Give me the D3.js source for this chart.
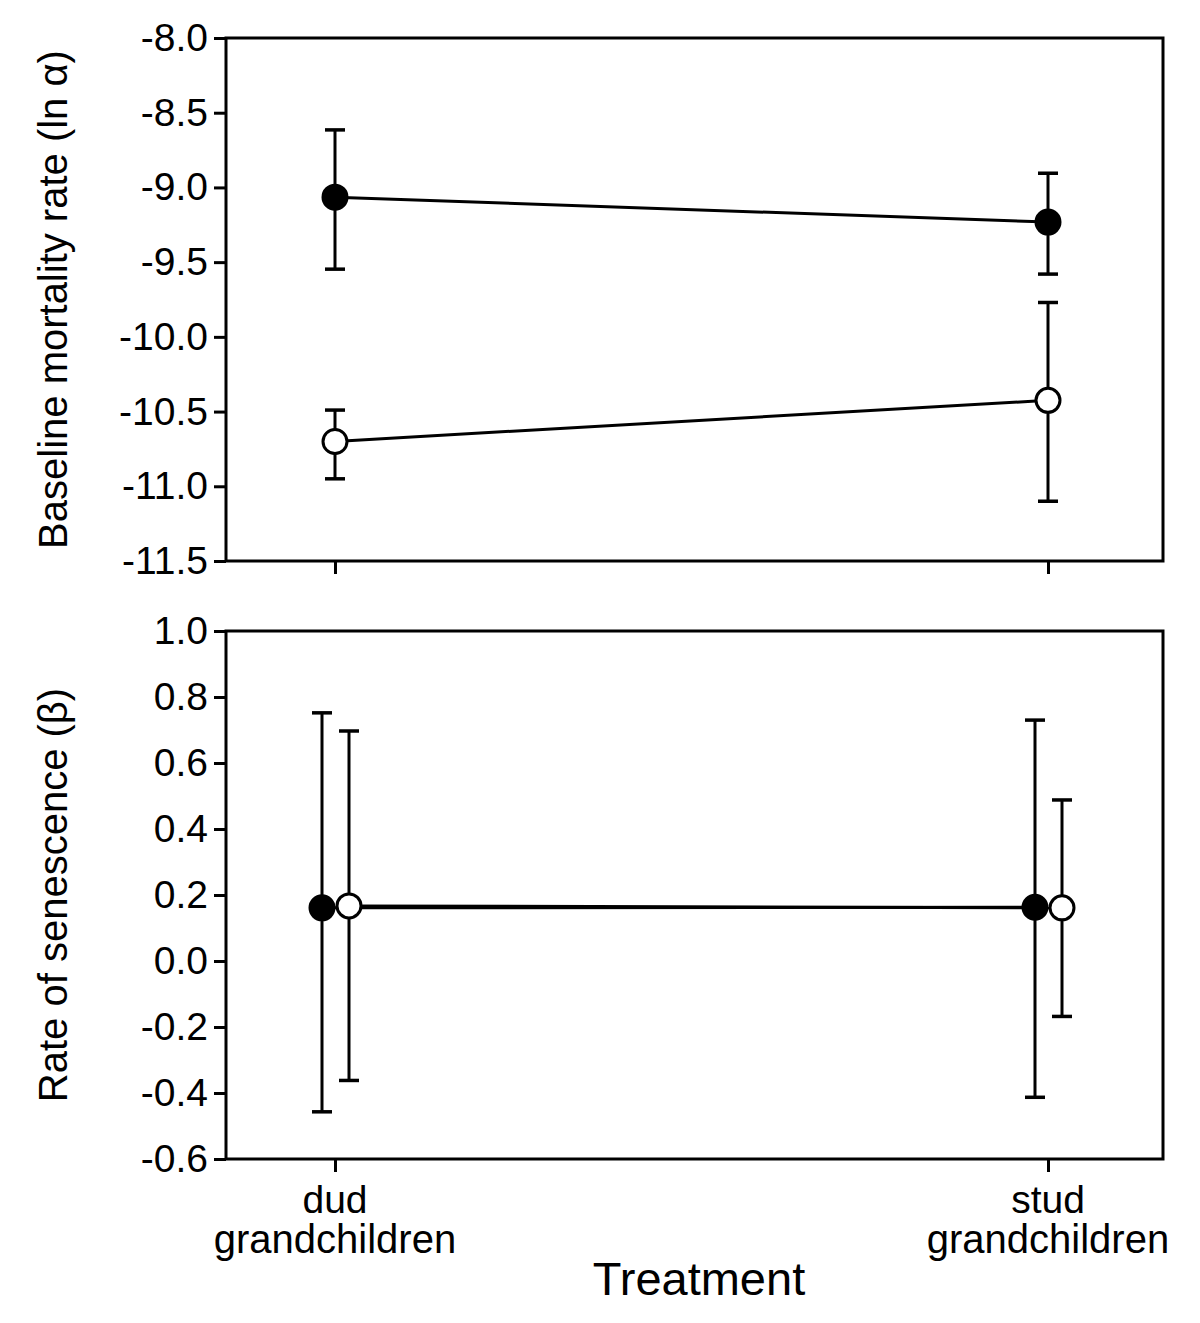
<!DOCTYPE html>
<html>
<head>
<meta charset="utf-8">
<script src="https://cdn.jsdelivr.net/npm/d3@7"></script>
<style>
  html, body { margin: 0; padding: 0; background: #fff; }
  svg { display: block; }
  text { font-family: "Liberation Sans", Arial, sans-serif; fill: #000; }
</style>
</head>
<body>
<div id="chart"></div>
<script>
// ---------- data ----------
const categories = ["dud", "stud"];
const categoryLine1 = ["dud", "stud"];
const categoryLine2 = ["grandchildren", "grandchildren"];
const series = ["filled", "open"];

// Top panel: baseline mortality rate (ln alpha)
const alphaMean  = { filled: [-9.065, -9.232], open: [-10.70, -10.425] };
const alphaUpper = { filled: [-8.615, -8.905], open: [-10.49, -9.77] };
const alphaLower = { filled: [-9.547, -9.580], open: [-10.95, -11.10] };
const alphaTicks = [-8.0, -8.5, -9.0, -9.5, -10.0, -10.5, -11.0, -11.5];

// Bottom panel: rate of senescence (beta)
const betaMean  = { filled: [0.161, 0.163], open: [0.167, 0.161] };
const betaUpper = { filled: [0.752, 0.730], open: [0.697, 0.488] };
const betaLower = { filled: [-0.457, -0.413], open: [-0.362, -0.168] };
const betaTicks = [1.0, 0.8, 0.6, 0.4, 0.2, 0.0, -0.2, -0.4, -0.6];

// ---------- layout ----------
const W = 1200, H = 1323;
const svg = d3.select("#chart").append("svg").attr("width", W).attr("height", H);

const left = 226, right = 1163;
const x = d3.scalePoint().domain(categories).range([335, 1048]);
const yTop = d3.scaleLinear().domain([-11.5, -8.0]).range([561, 38]);
const yBot = d3.scaleLinear().domain([-0.6, 1.0]).range([1159, 631]);
// dodge of series within a category (bottom panel only)
const dodgeBot = d3.scalePoint().domain(series).range([-13, 14]);
const dodgeTop = d3.scalePoint().domain(series).range([0, 0]);

const fmt = d => d.toFixed(1).replace("\u2212", "-");
const SW = 3;

function panel(y, ticks, mean, upper, lower, dodge, title) {
  const g = svg.append("g");
  const [y0, y1] = y.range();
  // box
  g.append("rect")
    .attr("x", left).attr("y", y1)
    .attr("width", right - left).attr("height", y0 - y1)
    .attr("fill", "none").attr("stroke", "#000").attr("stroke-width", SW);

  // y axis
  const ax = g.append("g").attr("transform", `translate(${left},0)`)
    .call(d3.axisLeft(y).tickValues(ticks).tickFormat(fmt).tickSize(12).tickPadding(6));
  ax.select(".domain").remove();
  ax.selectAll(".tick line").attr("stroke", "#000").attr("stroke-width", SW);
  ax.selectAll(".tick text").attr("font-size", 39).attr("font-family", "Liberation Sans, Arial, sans-serif").attr("fill", "#000");

  // x axis ticks (no labels)
  const bx = g.append("g").attr("transform", `translate(0,${y0})`)
    .call(d3.axisBottom(x).tickSize(13).tickFormat(""));
  bx.select(".domain").remove();
  bx.selectAll(".tick line").attr("stroke", "#000").attr("stroke-width", SW);

  // y title
  g.append("text")
    .attr("transform", `translate(67,${(y0 + y1) / 2}) rotate(-90)`)
    .attr("text-anchor", "middle")
    .attr("font-size", 40)
    .text(title);

  const px = (s, i) => x(categories[i]) + dodge(s);

  // connecting lines
  const line = d3.line().x(d => d[0]).y(d => d[1]);
  series.forEach(s => {
    const pts = categories.map((c, i) => [px(s, i), y(mean[s][i])]);
    g.append("path").attr("d", line(pts))
      .attr("fill", "none").attr("stroke", "#000").attr("stroke-width", SW);
  });

  // error bars + points
  series.forEach(s => {
    categories.forEach((c, i) => {
      const cx = px(s, i);
      g.append("line").attr("x1", cx).attr("x2", cx)
        .attr("y1", y(upper[s][i])).attr("y2", y(lower[s][i]))
        .attr("stroke", "#000").attr("stroke-width", SW);
      [upper[s][i], lower[s][i]].forEach(v => {
        g.append("line").attr("x1", cx - 10).attr("x2", cx + 10)
          .attr("y1", y(v)).attr("y2", y(v))
          .attr("stroke", "#000").attr("stroke-width", SW + 0.5);
      });
    });
  });
  series.forEach(s => {
    categories.forEach((c, i) => {
      g.append("circle")
        .attr("cx", px(s, i)).attr("cy", y(mean[s][i])).attr("r", 12)
        .attr("fill", s === "filled" ? "#000" : "#fff")
        .attr("stroke", "#000").attr("stroke-width", SW);
    });
  });
}

panel(yTop, alphaTicks, alphaMean, alphaUpper, alphaLower, dodgeTop, "Baseline mortality rate (ln \u03B1)");
panel(yBot, betaTicks, betaMean, betaUpper, betaLower, dodgeBot, "Rate of senescence (\u03B2)");

// category labels
categories.forEach((c, i) => {
  svg.append("text").attr("x", x(c)).attr("y", 1213)
    .attr("text-anchor", "middle").attr("font-size", 39).text(categoryLine1[i]);
  svg.append("text").attr("x", x(c)).attr("y", 1253)
    .attr("text-anchor", "middle").attr("font-size", 40).text(categoryLine2[i]);
});

svg.append("text").attr("x", 699).attr("y", 1295)
  .attr("text-anchor", "middle").attr("font-size", 47).text("Treatment");
</script>
</body>
</html>
